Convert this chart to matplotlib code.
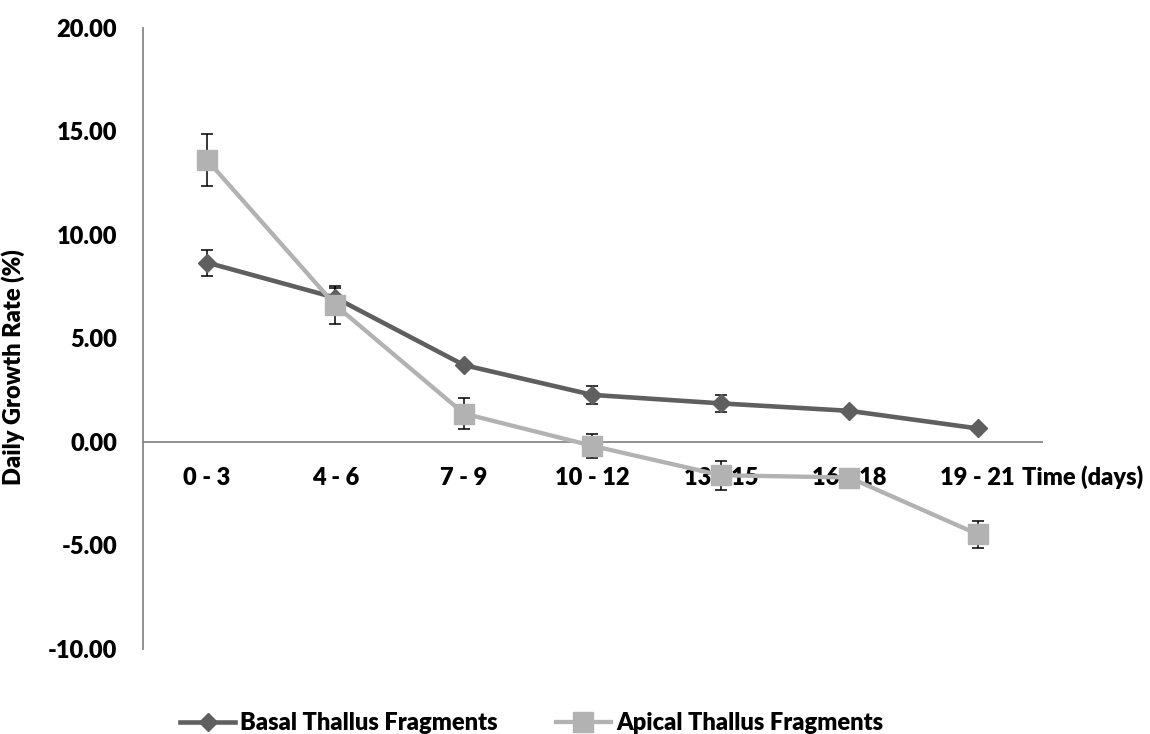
import matplotlib
matplotlib.use("Agg")
import matplotlib.pyplot as plt
import numpy as np

plt.rcParams['font.family'] = ['Lato', 'DejaVu Sans']
WEIGHT = 'heavy'
plt.rcParams['font.weight'] = WEIGHT

periods = ["0 - 3", "4 - 6", "7 - 9", "10 - 12", "13 - 15", "16 - 18", "19 - 21"]
basal = [8.66, 6.96, 3.71, 2.27, 1.86, 1.50, 0.65]
basal_err = [0.63, 0.48, 0.12, 0.43, 0.42, 0.10, 0.08]
apical = [13.62, 6.60, 1.37, -0.19, -1.61, -1.72, -4.46]
apical_err = [1.26, 0.93, 0.74, 0.58, 0.71, 0.10, 0.66]

dark = "#5f5f5f"
light = "#b2b2b2"
axis_col = "#888888"
FS = 17

W, H = 1150, 734
fig = plt.figure(figsize=(W / 100, H / 100), dpi=100)
ax = fig.add_axes([142.7 / W, 1 - 649 / H, (1042 - 142.7) / W, (649 - 27.7) / H])

x = np.arange(len(periods))

ax.errorbar(x, basal, yerr=basal_err, fmt='none', ecolor='black', elinewidth=1.1,
            capsize=4.3, capthick=1.1, zorder=2)
ax.errorbar(x, apical, yerr=apical_err, fmt='none', ecolor='black', elinewidth=1.1,
            capsize=4.3, capthick=1.1, zorder=2)
ax.plot(x, basal, color=dark, lw=3.3, marker='D', markersize=9,
        markerfacecolor=dark, markeredgecolor=dark, zorder=3,
        label="Basal Thallus Fragments")
ax.plot(x, apical, color=light, lw=3.1, marker='s', markersize=14,
        markerfacecolor=light, markeredgecolor=light, zorder=4,
        label="Apical Thallus Fragments")

ax.set_xlim(-0.5, len(periods) - 0.5)
ax.set_ylim(-10, 20)
yt = np.arange(-10, 20.1, 5)
ax.set_yticks(yt)
ax.set_yticklabels([f"{v:.2f}" for v in yt])
ax.set_xticks(x)
ax.set_xticklabels(periods)

for s in ['top', 'right']:
    ax.spines[s].set_visible(False)
ax.spines['bottom'].set_position(('data', 0))
for s in ['bottom', 'left']:
    ax.spines[s].set_color(axis_col)
    ax.spines[s].set_linewidth(1.3)

ax.tick_params(axis='both', length=0, labelsize=FS)
ax.tick_params(axis='y', pad=18.5)
ax.tick_params(axis='x', pad=18)
for lbl in ax.get_xticklabels() + ax.get_yticklabels():
    lbl.set_fontweight(WEIGHT)

ax.set_ylabel("Daily Growth Rate (%)", fontsize=FS, fontweight=WEIGHT)
ax.yaxis.set_label_coords(25 / W, 0.5, transform=fig.transFigure)

fig.text(1022 / W, 1 - 477 / H, "Time (days)", fontsize=FS, fontweight=WEIGHT,
         ha='left', va='center')

fig.legend(loc='center left', bbox_to_anchor=(180 / W, 1 - 723 / H), ncol=2,
           frameon=False, handlelength=2.35, handletextpad=0.2, columnspacing=2.45,
           borderpad=0, borderaxespad=0,
           prop={'weight': WEIGHT, 'size': FS})

fig.savefig("out.png", dpi=100)
